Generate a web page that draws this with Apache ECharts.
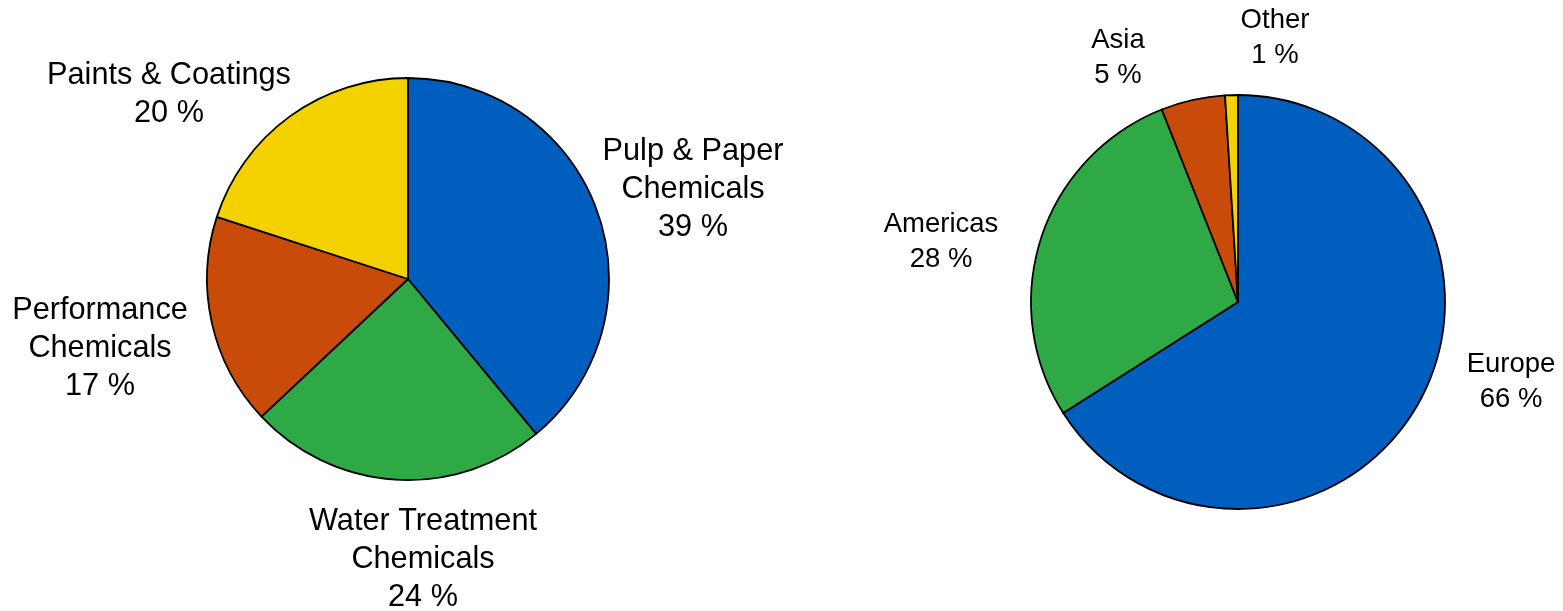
<!DOCTYPE html>
<html>
<head>
<meta charset="utf-8">
<script src="https://cdn.jsdelivr.net/npm/echarts@6/dist/echarts.min.js"></script>
<style>
  html, body { margin: 0; padding: 0; background: #ffffff; }
  #chart { width: 1563px; height: 611px; }
</style>
</head>
<body>
<div id="chart"></div>
<script>
// Sales split by business area (percent)
const segmentNames = ['Pulp & Paper\nChemicals', 'Water Treatment\nChemicals', 'Performance\nChemicals', 'Paints & Coatings'];
const segmentShares = [39, 24, 17, 20];

// Sales split by region (percent)
const regionNames = ['Europe', 'Americas', 'Asia', 'Other'];
const regionShares = [66, 28, 5, 1];

const sliceColors = ['#005EBE', '#2EA946', '#C84B0A', '#F3D200'];

// Label anchor points (centre of each text block), in pixels
const segmentLabelPos = [[693, 190], [423, 560], [100, 349], [169, 95]];
const regionLabelPos = [[1511, 382], [941, 242], [1118, 58], [1275, 38]];

function toData(names, values) {
  return names.map((n, i) => ({ name: n, value: values[i], itemStyle: { color: sliceColors[i] } }));
}

function pieSeries(names, values, center, radius, fontSize, lineHeight, labelPos) {
  return {
    type: 'pie',
    center: center,
    radius: radius,
    startAngle: 90,
    clockwise: true,
    avoidLabelOverlap: false,
    itemStyle: { borderColor: '#000000', borderWidth: 1.8 },
    emphasis: { disabled: true },
    label: {
      show: true,
      position: 'outside',
      formatter: p => p.name + '\n' + p.value + ' %',
      fontFamily: '"Liberation Sans", Arial, sans-serif',
      fontSize: fontSize,
      lineHeight: lineHeight,
      color: '#000000',
      align: 'center'
    },
    labelLine: { show: false },
    labelLayout: params => ({
      x: labelPos[params.dataIndex][0],
      y: labelPos[params.dataIndex][1],
      align: 'center',
      verticalAlign: 'middle'
    }),
    data: toData(names, values)
  };
}

const chart = echarts.init(document.getElementById('chart'), null, { renderer: 'canvas' });
chart.setOption({
  animation: false,
  backgroundColor: '#ffffff',
  series: [
    pieSeries(segmentNames, segmentShares, [408, 279], 201, 30.7, 38, segmentLabelPos),
    pieSeries(regionNames, regionShares, [1238, 302], 207, 27.5, 35, regionLabelPos)
  ]
});
</script>
</body>
</html>
